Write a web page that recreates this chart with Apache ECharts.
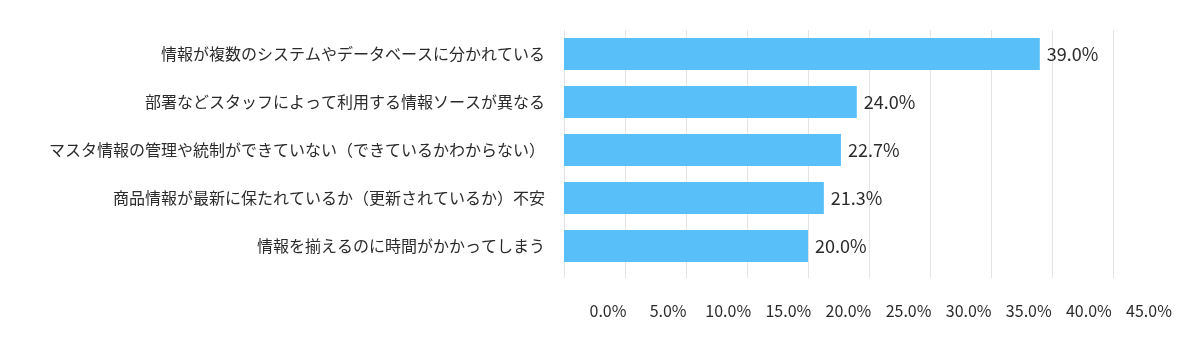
<!DOCTYPE html>
<html>
<head>
<meta charset="utf-8">
<script src="https://cdn.jsdelivr.net/npm/echarts@6/dist/echarts.min.js"></script>
<style>
html,body{margin:0;padding:0;background:#fff;}
#chart{width:1200px;height:338px;}
</style>
</head>
<body>
<div id="chart"></div>
<script>
const categories = [
  "情報が複数のシステムやデータベースに分かれている",
  "部署などスタッフによって利用する情報ソースが異なる",
  "マスタ情報の管理や統制ができていない（できているかわからない）",
  "商品情報が最新に保たれているか（更新されているか）不安",
  "情報を揃えるのに時間がかかってしまう"
];
const values = [39.0, 24.0, 22.7, 21.3, 20.0];
const tickLabels = ["0.0%","5.0%","10.0%","15.0%","20.0%","25.0%","30.0%","35.0%","40.0%","45.0%"];

const FONT = '"Noto Sans CJK JP", "Noto Sans", sans-serif';
const chart = echarts.init(document.getElementById('chart'), null, {renderer: 'canvas'});
chart.setOption({
  animation: false,
  backgroundColor: '#ffffff',
  grid: [
    {left: 564, top: 30, width: 549, height: 240, containLabel: false},
    {left: 608, top: 30, width: 541, height: 240, containLabel: false}
  ],
  xAxis: [
    {
      type: 'value', gridIndex: 0, min: 0, max: 45, interval: 5,
      axisLine: {show: false},
      axisTick: {show: true, inside: false, length: 8, lineStyle: {color: '#e4e4e4', width: 1}},
      splitLine: {show: true, lineStyle: {color: '#e4e4e4', width: 1}},
      axisLabel: {show: false}
    },
    {
      type: 'value', gridIndex: 1, min: 0, max: 45, interval: 5,
      axisLine: {show: false}, axisTick: {show: false}, splitLine: {show: false},
      axisLabel: {
        show: true, margin: 33, color: '#2b2b2b', fontSize: 16, fontFamily: FONT,
        formatter: function (v) { return tickLabels[Math.round(v / 5)]; }
      }
    }
  ],
  yAxis: [
    {
      type: 'category', gridIndex: 0, data: categories, inverse: true,
      axisLine: {show: false}, axisTick: {show: false},
      axisLabel: {margin: 19, color: '#2b2b2b', fontSize: 16, fontFamily: FONT}
    },
    {
      type: 'category', gridIndex: 1, data: categories, show: false
    }
  ],
  series: [{
    type: 'bar', xAxisIndex: 0, yAxisIndex: 0,
    data: values,
    barCategoryGap: '33%',
    itemStyle: {color: '#58BFF8'},
    label: {
      show: true, position: 'right', distance: 7,
      color: '#2b2b2b', fontSize: 18, fontFamily: FONT,
      formatter: function (p) { return p.value.toFixed(1) + '%'; }
    }
  }]
});
</script>
</body>
</html>
